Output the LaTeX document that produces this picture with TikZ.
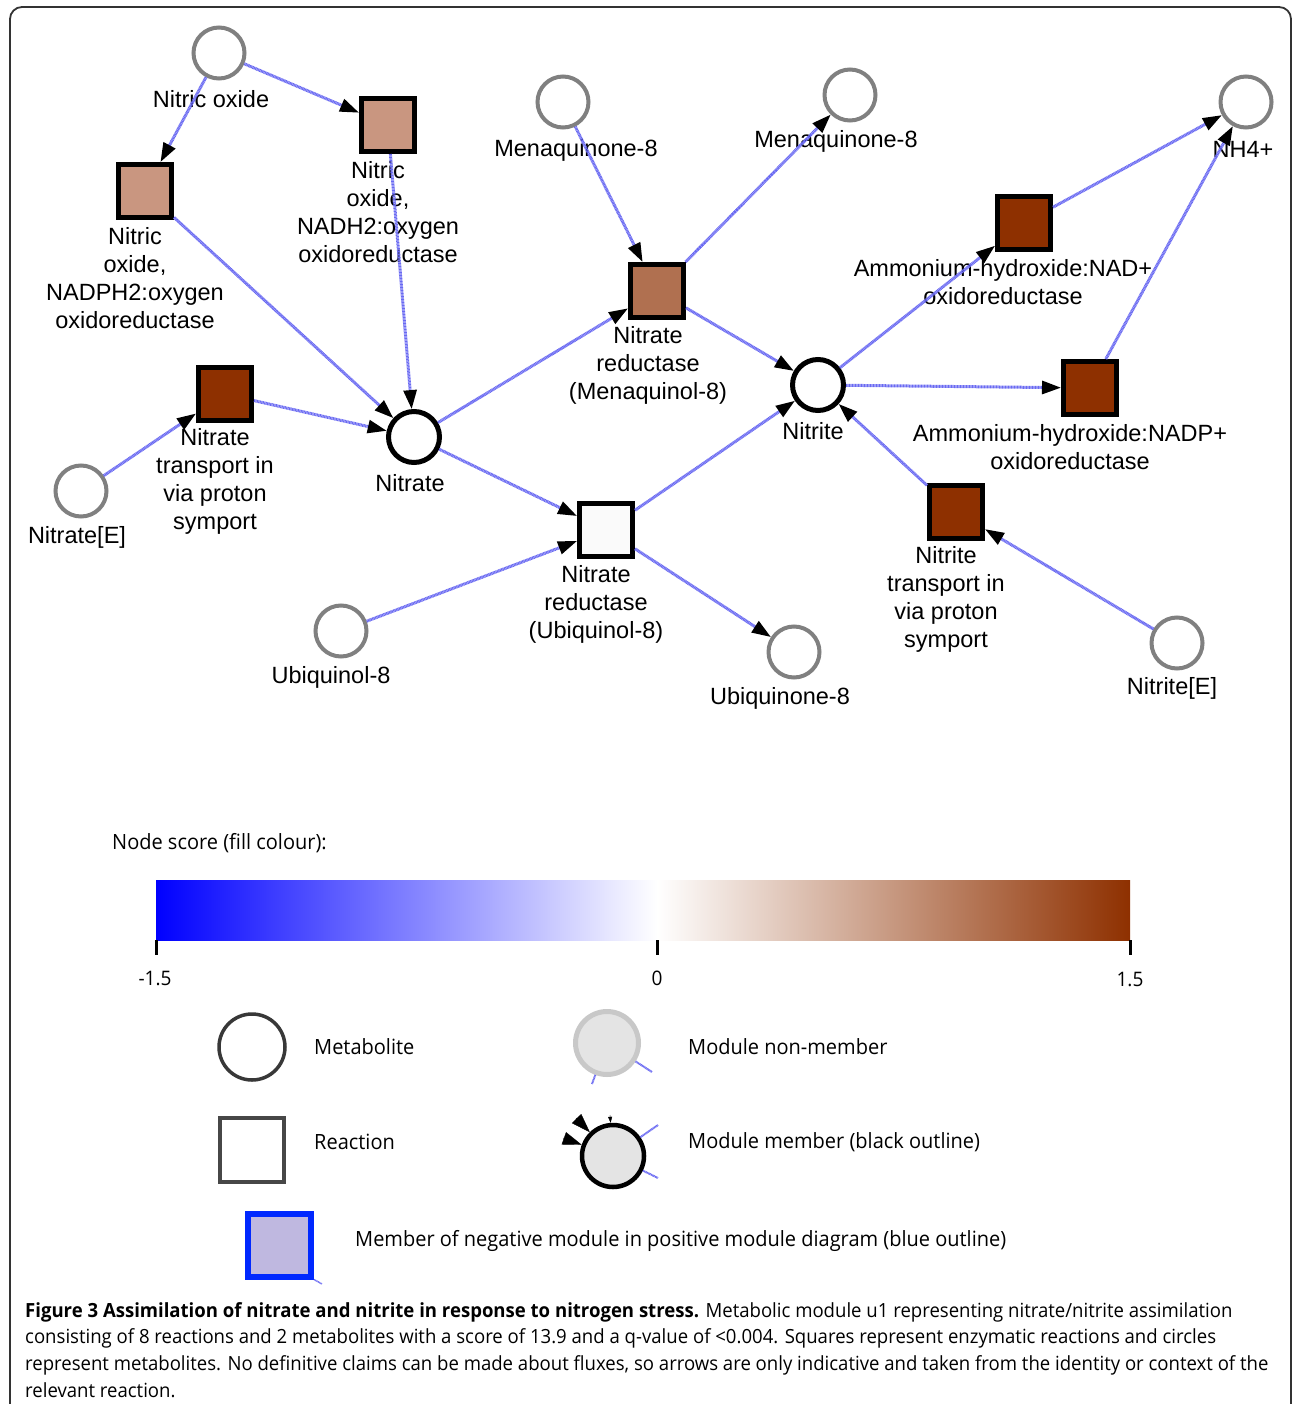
\documentclass[tikz,border=0pt]{standalone}
\usepackage{fontspec}
\setmainfont{Liberation Sans}
\newfontfamily\capfont[FakeStretch=0.952]{Open Sans}
\usetikzlibrary{arrows.meta}
\definecolor{edgeblue}{RGB}{105,105,242}
\definecolor{lightbrown}{RGB}{201,150,128}
\definecolor{midbrown}{RGB}{176,112,80}
\definecolor{darkbrown}{RGB}{142,48,0}
\definecolor{metgray}{RGB}{128,128,128}
\definecolor{lavender}{RGB}{191,184,224}
\definecolor{negblue}{RGB}{0,40,255}
\begin{document}
\begin{tikzpicture}[x=1pt,y=-1pt,
  met/.style={circle, draw=metgray, line width=4pt, minimum size=51pt, inner sep=0pt, fill=white},
  metm/.style={met, draw=black, line width=5pt},
  rxn/.style={rectangle, draw=black, line width=5pt, minimum size=53pt, inner sep=0pt},
  lbl/.style={font=\fontsize{23.5}{28}\selectfont, align=center, inner sep=0pt},
  edgeline/.style={draw=edgeblue, line width=3pt, dash pattern=on 1pt off 0.5pt},
  arr/.style={edgeline, -{Triangle[length=19pt,width=13pt,color=black]}},
  legtext/.style={font=\capfont\fontsize{21}{25}\selectfont, anchor=west, inner sep=0pt},
  captext/.style={font=\capfont\fontsize{19.5}{26}\selectfont, anchor=base west, inner sep=0pt}
]
\useasboundingbox (0,0) rectangle (1293,1404);
% frame
\draw[line width=1.8pt, draw=black!80, rounded corners=12pt] (10,1420) -- (10,7) -- (1291,7) -- (1291,1420);

% metabolites
\node[met] (no) at (219,53) {};
\node[met] (mqL) at (563,102) {};
\node[met] (mqR) at (850,95) {};
\node[met] (nh4) at (1246,102) {};
\node[metm] (nat) at (414,437) {};
\node[metm] (nit) at (818,385) {};
\node[met] (natE) at (81,491) {};
\node[met] (ubol) at (341,631) {};
\node[met] (ubone) at (794,652) {};
\node[met] (nitE) at (1177,643) {};

% reactions
\node[rxn, fill=lightbrown] (r1) at (145,191) {};
\node[rxn, fill=lightbrown] (r2) at (388,125) {};
\node[rxn, fill=darkbrown] (r3) at (225,394) {};
\node[rxn, fill=midbrown] (r4) at (657,291) {};
\node[rxn, fill={rgb,255:red,250;green,250;blue,250}] (r5) at (606,530) {};
\node[rxn, fill=darkbrown] (r6) at (1024,223) {};
\node[rxn, fill=darkbrown] (r7) at (1090,388) {};
\node[rxn, fill=darkbrown] (r8) at (956,512) {};

% labels
\node[lbl] (lno) at (211,99) {Nitric oxide};
\node[lbl] (lmqL) at (576,150) {Menaquinone-8};
\node[lbl] (lmqR) at (836,141) {Menaquinone-8};
\node[lbl] (lnh4) at (1243,149) {NH4+};
\node[lbl] (lnat) at (410,483) {Nitrate};
\node[lbl] (lnit) at (813,431) {Nitrite};
\node[lbl] (lnatE) at (77,537) {Nitrate[E]};
\node[lbl] (lubol) at (331,677) {Ubiquinol-8};
\node[lbl] (lubone) at (780,698) {Ubiquinone-8};
\node[lbl] (lnitE) at (1172,688) {Nitrite[E]};
\node[lbl] (lr1) at (135,278) {Nitric\\oxide,\\NADPH2:oxygen\\oxidoreductase};
\node[lbl] (lr2) at (378,212.5) {Nitric\\oxide,\\NADH2:oxygen\\oxidoreductase};
\node[lbl] (lr3) at (215,481.5) {Nitrate\\transport in\\via proton\\symport};
\node[lbl] (lr4) at (648,365) {Nitrate\\reductase\\(Menaquinol-8)};
\node[lbl] (lr5) at (596,604) {Nitrate\\reductase\\(Ubiquinol-8)};
\node[lbl] (lr6) at (1003,282.5) {Ammonium-hydroxide:NAD+\\oxidoreductase};
\node[lbl] (lr7) at (1070,447) {Ammonium-hydroxide:NADP+\\oxidoreductase};
\node[lbl] (lr8) at (946,599) {Nitrite\\transport in\\via proton\\symport};

% edges
\draw[arr] (no) -- (r1);
\draw[arr] (no) -- (r2);
\draw[arr] (r1) -- (nat);
\draw[arr] (r2) -- (nat);
\draw[arr] (natE) -- (r3);
\draw[arr] (r3) -- (nat);
\draw[arr] (nat) -- (r4);
\draw[arr] (mqL) -- (r4);
\draw[arr] (r4) -- (mqR);
\draw[arr] (r4) -- (nit);
\draw[arr] (nat) -- (r5);
\draw[arr] (ubol) -- (r5);
\draw[arr] (r5) -- (ubone);
\draw[arr] (r5) -- (nit);
\draw[arr] (nit) -- (r6);
\draw[arr] (r6) -- (nh4);
\draw[arr] (nit) -- (r7);
\draw[arr] (r7) -- (nh4);
\draw[arr] (r8) -- (nit);
\draw[arr] (nitE) -- (r8);

% legend: colour bar
\node[legtext] (nscore) at (112,843) {Node score (fill colour):};
\shade[left color=blue, right color=white] (156,880) rectangle (657,940);
\shade[left color=white, right color=darkbrown] (657,880) rectangle (1130,940);
\draw[line width=3pt] (156,940) -- (156,955);
\draw[line width=3pt] (657,940) -- (657,955);
\draw[line width=3pt] (1130,940) -- (1130,955);
\node[font=\capfont\fontsize{20}{24}\selectfont, inner sep=0pt] (tm) at (155,978) {-1.5};
\node[font=\capfont\fontsize{20}{24}\selectfont, inner sep=0pt] (t0) at (657,978) {0};
\node[font=\capfont\fontsize{20}{24}\selectfont, inner sep=0pt] (tp) at (1130,979) {1.5};

% legend symbols
\node[circle, draw=black!78, line width=3.5pt, minimum size=66pt, inner sep=0pt, fill=white] (legmet) at (252,1047) {};
\node[legtext] (legmett) at (314,1047) {Metabolite};
\node[rectangle, draw=black!72, line width=4pt, minimum size=64pt, inner sep=0pt, fill=white] (legrxn) at (252,1150) {};
\node[legtext] (legrxnt) at (314,1142) {Reaction};

\coordinate (s1a) at (652,1072);
\coordinate (s2a) at (592,1084);
\node[circle, draw={rgb,255:red,200;green,200;blue,200}, line width=5pt, minimum size=63pt, inner sep=0pt, fill={rgb,255:red,228;green,228;blue,228}] (legnon) at (607,1043) {};
\draw[edgeline, line width=2pt] (legnon) -- (s1a);
\draw[edgeline, line width=2pt] (legnon) -- (s2a);
\node[legtext] (legnont) at (688,1047) {Module non-member};

\node[circle, draw=black, line width=4.5pt, minimum size=62pt, inner sep=0pt, fill={rgb,255:red,228;green,228;blue,228}] (legmem) at (613,1156) {};
\coordinate (a1) at (563,1138);
\coordinate (a2) at (576,1118);
\coordinate (a3) at (610,1115);
\coordinate (s3a) at (658,1125);
\coordinate (s4a) at (658,1178);
\draw[-{Triangle[length=19pt,width=13pt]}] (a1) -- (legmem);
\draw[-{Triangle[length=19pt,width=13pt]}] (a2) -- (legmem);
\draw[-{Triangle[length=6pt,width=4pt]}] (a3) -- (legmem);
\draw[edgeline, line width=2pt] (legmem) -- (s3a);
\draw[edgeline, line width=2pt] (legmem) -- (s4a);
\node[legtext] (legmemt) at (688,1142) {Module member (black outline)};

\node[rectangle, draw=negblue, line width=6pt, minimum size=63pt, inner sep=0pt, fill=lavender] (legneg) at (279.5,1245) {};
\coordinate (s5a) at (322,1284);
\draw[edgeline, line width=1.5pt] (legneg.south east) -- (s5a);
\node[legtext] (legnegt) at (355,1241) {Member of negative module in positive module diagram (blue outline)};

% caption
\node[captext] (c1) at (25,1317) {\textbf{Figure 3 Assimilation of nitrate and nitrite in response to nitrogen stress.} Metabolic module u1 representing nitrate/nitrite assimilation};
\node[captext] (c2) at (25,1343.7) {consisting of 8 reactions and 2 metabolites with a score of 13.9 and a q-value of <0.004. Squares represent enzymatic reactions and circles};
\node[captext] (c3) at (25,1370.4) {represent metabolites. No definitive claims can be made about fluxes, so arrows are only indicative and taken from the identity or context of the};
\node[captext] (c4) at (25,1397) {relevant reaction.};
\end{tikzpicture}
\end{document}
